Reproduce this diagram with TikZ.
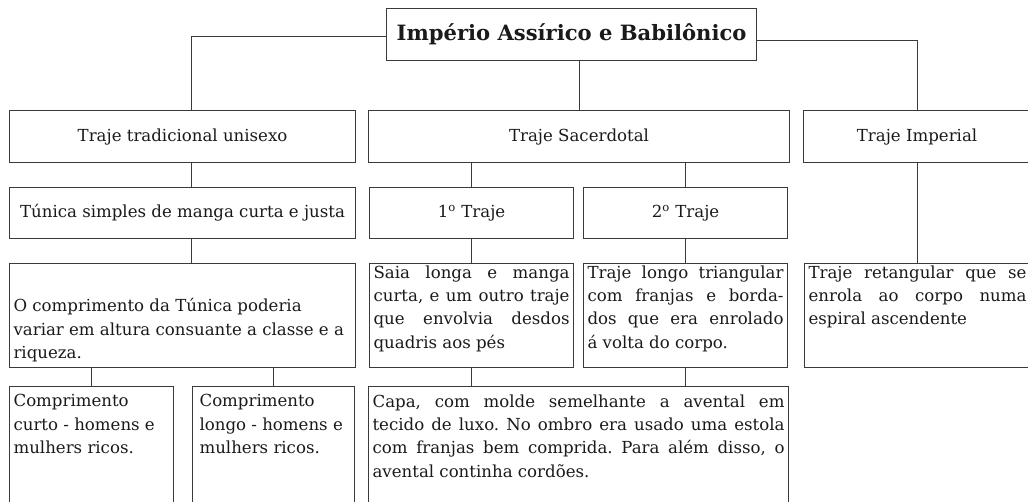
\documentclass[tikz,border=0pt]{standalone}
\usepackage{fontspec}
\setmainfont{DejaVu Serif}
\newlength{\pxu}
\setlength{\pxu}{0.025cm}
\definecolor{LineClr}{HTML}{3A3A3A}
\definecolor{TextClr}{HTML}{1A1A1A}
\newcommand{\topcell}[2]{\parbox[c][#1\pxu][t]{\linewidth}{\leftskip=0pt\rightskip=0pt\parfillskip=0pt plus 1fil
  \spaceskip=0pt\xspaceskip=0pt\tolerance=10000\hyphenpenalty=10000\frenchspacing #2}}

\tikzset{
  cell/.style={draw=LineClr, line width=.8pt, anchor=north west, inner xsep=4\pxu, inner ysep=2\pxu,
    text=TextClr, font=\fontsize{11.8}{16.6}\selectfont},
  link/.style={draw=LineClr, line width=.6pt},
}

\begin{document}
\begin{tikzpicture}[x=1\pxu,y=-1\pxu]
\useasboundingbox (0,0) rectangle (1028,501);
\fill[white] (0,0) rectangle (1028,501);
\clip (0,0) rectangle (1028,501);

\node[cell, font=\bfseries\fontsize{15}{18}\selectfont, minimum width=370\pxu, minimum height=52\pxu] (title) at (386,8) {Império Assírico e Babilônico};

\node[cell, minimum width=346\pxu, minimum height=52\pxu] (trad) at (9,110) {Traje tradicional unisexo};
\node[cell, minimum width=421\pxu, minimum height=52\pxu] (sac) at (368,110) {Traje Sacerdotal};
\node[cell, minimum width=227\pxu, minimum height=52\pxu] (imp) at (803,110) {Traje Imperial};

\node[cell, minimum width=346\pxu, minimum height=51\pxu] (tun) at (9,187) {Túnica simples de manga curta e justa};
\node[cell, minimum width=204\pxu, minimum height=51\pxu] (t1) at (369,187) {1\textsuperscript{o} Traje};
\node[cell, minimum width=204\pxu, minimum height=51\pxu] (t2) at (583,187) {2\textsuperscript{o} Traje};

\node[cell, text width=338\pxu] (comp) at (9,263) {\topcell{100}{\vspace*{33\pxu}O comprimento da Túnica poderia\\ variar em altura consuante a classe e a\\ riqueza.}};
\node[cell, text width=196\pxu] (saia) at (369,263) {\topcell{100}{Saia longa e manga\linebreak curta, e um outro traje\linebreak que envolvia desdos\linebreak quadris aos pés}};
\node[cell, text width=196\pxu] (tlong) at (583,263) {\topcell{100}{Traje longo triangular\linebreak com franjas e borda-\linebreak dos que era enrolado\linebreak á volta do corpo.}};
\node[cell, text width=218\pxu] (tret) at (804,263) {\topcell{100}{Traje retangular que se\linebreak enrola ao corpo numa\linebreak espiral ascendente}};

\node[cell, text width=156\pxu] (curto) at (9,386) {\topcell{130}{\vspace*{6\pxu}Comprimento\\ curto - homens e\\ mulhers ricos.}};
\node[cell, inner xsep=7\pxu, text width=148\pxu] (longo) at (192,386) {\topcell{130}{\vspace*{6\pxu}Comprimento\\ longo - homens e\\ mulhers ricos.}};
\node[cell, text width=412\pxu] (capa) at (368,386) {\topcell{130}{\vspace*{6\pxu}Capa, com molde semelhante a avental em\linebreak tecido de luxo. No ombro era usado uma estola\linebreak com franjas bem comprida. Para além disso, o\linebreak avental continha cordões.}};

\coordinate (lx) at (191,0);
\draw[link] ([yshift=-2\pxu]title.west) -| (trad.north -| lx);
\draw[link] ([yshift=-6\pxu]title.east) -| (imp.north);
\draw[link] (title.south -| sac.north) -- (sac.north);
\draw[link] (trad.south -| lx) -- (tun.north -| lx);
\draw[link] (tun.south -| lx) -- (comp.north -| lx);
\draw[link] (comp.south -| curto.north) -- (curto.north);
\draw[link] (comp.south -| longo.north) -- (longo.north);
\draw[link] (sac.south -| t1.north) -- (t1.north);
\draw[link] (sac.south -| t2.north) -- (t2.north);
\draw[link] (t1) -- (saia);
\draw[link] (t2) -- (tlong);
\draw[link] (imp.south) -- (imp.south |- tret.north);
\draw[link] (saia.south) -- (saia.south |- capa.north);
\draw[link] (tlong.south) -- (tlong.south |- capa.north);
\end{tikzpicture}
\end{document}
